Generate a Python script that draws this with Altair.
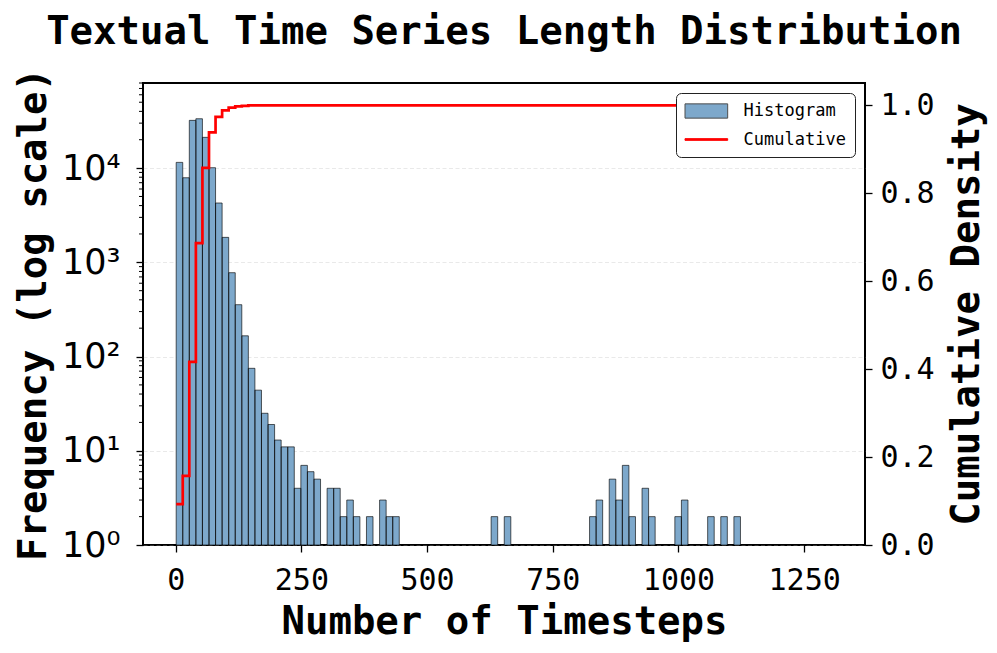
import altair as alt
import pandas as pd

# ---- data ----
BIN_START = 1.0
BIN_WIDTH = 13.05

bin_index = [0, 1, 2, 3, 4, 5, 6, 7, 8, 9, 10, 11, 12, 13, 14, 15, 16, 17,
             18, 19, 20, 21, 23, 24, 25, 26, 27, 29, 31, 32, 33,
             48, 50, 63, 64, 66, 67, 68, 69, 71, 72, 76, 77, 81, 83, 85]
bin_count = [11500, 7900, 32100, 33400, 21200, 10100, 4260, 1840, 776, 355,
             166, 75, 44, 25, 19, 13, 11, 11,
             4, 7, 6, 5, 4, 4, 2, 3, 2, 2, 3, 2, 2,
             2, 2, 2, 3, 5, 3, 7, 2, 4, 2, 2, 3, 2, 2, 2]

cum_index = [0, 1, 2, 3, 4, 5, 6, 7, 8, 9, 10, 11, 99]
cum_value = [0.093, 0.157, 0.416, 0.686, 0.857, 0.938, 0.973, 0.988,
             0.994, 0.997, 0.998, 0.999, 1.0]

minor_ticks = [2, 3, 4, 5, 6, 7, 8, 9,
               20, 30, 40, 50, 60, 70, 80, 90,
               200, 300, 400, 500, 600, 700, 800, 900,
               2000, 3000, 4000, 5000, 6000, 7000, 8000, 9000,
               20000, 30000, 40000, 50000, 60000, 70000, 80000]

x_ticks = [0, 250, 500, 750, 1000, 1250]
y_ticks = [1, 10, 100, 1000, 10000]
cum_ticks = [0.0, 0.2, 0.4, 0.6, 0.8, 1.0]

hist = pd.DataFrame({
    "start": [BIN_START + i * BIN_WIDTH for i in bin_index],
    "end": [BIN_START + (i + 1) * BIN_WIDTH for i in bin_index],
    "count": bin_count,
    "series": "Histogram",
})
cum = pd.DataFrame({
    "edge": [BIN_START + i * BIN_WIDTH for i in cum_index],
    "cum": cum_value,
})
minor = pd.DataFrame({"v": minor_ticks})

MONO = "DejaVu Sans Mono"
SANS = "DejaVu Sans"
BAR_FILL = "#7DA8CB"   # steelblue at 0.7 alpha on white
RED = "#ff0000"

xscale = alt.Scale(domain=[-65, 1371], nice=False, zero=False)
logscale = alt.Scale(type="log", domain=[1, 80000], nice=False)

IS_CUM = "datum.value === 'Cumulative'"
RECT_PATH = "M-2.51,-0.84L2.51,-0.84L2.51,0.84L-2.51,0.84Z"
LINE_PATH = "M-2.51,-0.1L2.51,-0.1L2.51,0.1L-2.51,0.1Z"
color = alt.Color(
    "series:N",
    scale=alt.Scale(domain=["Histogram", "Cumulative"], range=[BAR_FILL, RED]),
    legend=alt.Legend(
        title=None, orient="top-right", offset=10,
        labelFont=MONO, labelFontSize=17, labelColor="black",
        symbolSize=289, symbolOffset=12.35, labelOffset=28.2, rowPadding=9.5,
        padding=9, strokeColor="#222222", fillColor="white", cornerRadius=5,
        symbolType={"expr": IS_CUM + " ? '" + LINE_PATH + "' : '" + RECT_PATH + "'"},
        symbolStrokeColor={"expr": IS_CUM + " ? '#ff0000' : '#4d4d4d'"},
        symbolStrokeWidth=1,
        symbolOpacity=1,
    ),
)

x_axis = alt.Axis(
    values=x_ticks, format="d", title="Number of Timesteps", grid=False, domain=False,
    labelFont=MONO, labelFontSize=30, labelColor="black", labelPadding=13,
    tickSize=7, tickWidth=1.3, tickColor="black",
    titleFont=MONO, titleFontSize=39, titleFontWeight="bold", titleColor="black",
    titleBaseline="alphabetic", titleY=88)

y_axis = alt.Axis(
    orient="left", values=y_ticks,
    labelExpr="datum.value == 1 ? '10\u2070' : datum.value == 10 ? '10\u00b9' : datum.value == 100 ? '10\u00b2' : datum.value == 1000 ? '10\u00b3' : '10\u2074'",
    labelFont=SANS, labelFontSize=35, labelColor="black", labelPadding=16,
    tickSize=7, tickWidth=1.3, tickColor="black", domain=False,
    grid=True, gridDash=[4, 2.5], gridColor="#b0b0b0", gridOpacity=0.35, gridWidth=0.8,
    title="Frequency (log scale)", titleFont=MONO, titleFontSize=39,
    titleFontWeight="bold", titleColor="black", titleAngle=270,
    titleBaseline="alphabetic", titleAlign="center", titleX=-98)

bars = alt.Chart(hist).mark_bar(opacity=1).encode(
    x=alt.X("start:Q", scale=xscale, axis=x_axis),
    x2="end:Q",
    y=alt.Y("count:Q", scale=logscale, axis=y_axis),
    y2=alt.datum(1),
    color=color,
)

bar_edges = alt.Chart(hist).mark_bar(filled=False, stroke="black", strokeOpacity=0.7,
                                     strokeWidth=0.9).encode(
    x=alt.X("start:Q", scale=xscale),
    x2="end:Q",
    y=alt.Y("count:Q", scale=logscale, axis=None),
    y2=alt.datum(1),
)

minor_rules = alt.Chart(minor).mark_rule(color="black", strokeWidth=1).encode(
    y=alt.Y("v:Q", scale=logscale, axis=None),
    x=alt.value(-4),
    x2=alt.value(0),
)

line = alt.Chart(cum).mark_line(interpolate="step-after", strokeWidth=2.7, color=RED).encode(
    x=alt.X("edge:Q", scale=xscale),
    y=alt.Y("cum:Q", scale=alt.Scale(domain=[0, 1.05], nice=False, zero=True), axis=alt.Axis(
        orient="right", values=cum_ticks, format=".1f",
        labelFont=MONO, labelFontSize=30, labelColor="black", labelPadding=8,
        tickSize=7, tickWidth=1.3, tickColor="black", domain=False, grid=False,
        title="Cumulative Density", titleFont=MONO, titleFontSize=39,
        titleFontWeight="bold", titleColor="black", titleAngle=270,
        titleBaseline="alphabetic", titleAlign="center", titleX=113)),
)

chart = alt.layer(bars, bar_edges, minor_rules, line).resolve_scale(y="independent").properties(
    width=722, height=462,
    title=alt.TitleParams("Textual Time Series Length Distribution", font=MONO, fontSize=39,
                          fontWeight="bold", color="black", anchor="middle", frame="group",
                          baseline="alphabetic", offset=40, dy=56),
    autosize=alt.AutoSizeParams(type="none"),
    padding={"left": 135, "top": 75, "right": 124, "bottom": 98},
).configure(
    background="white",
    view=alt.ViewConfig(stroke="black", strokeWidth=2),
)

chart.save("out.html", embed_options={"renderer": "svg", "actions": False})
